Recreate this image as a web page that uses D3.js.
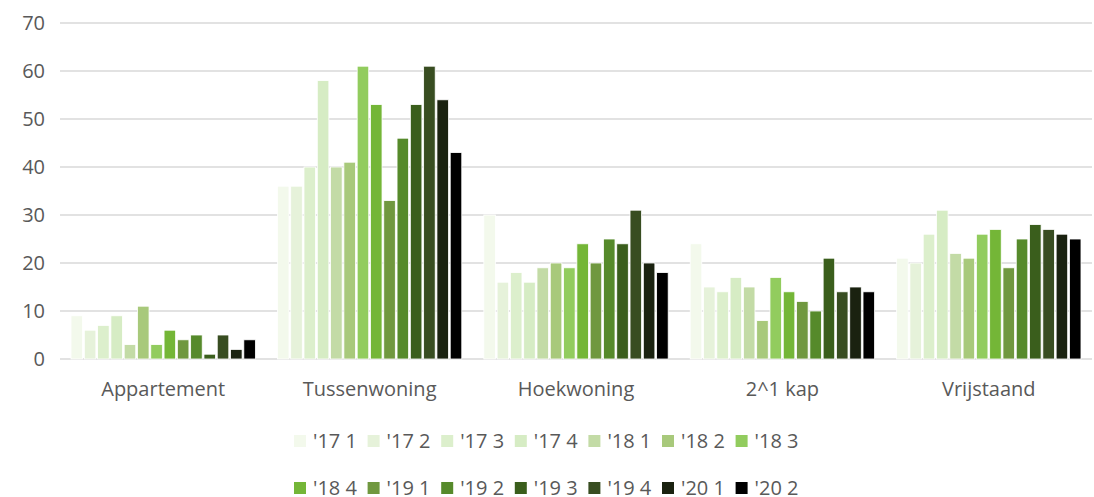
<!DOCTYPE html>
<html>
<head>
<meta charset="utf-8">
<title>Woningtypes per kwartaal</title>
<script src="https://cdn.jsdelivr.net/npm/d3@7"></script>
<style>
  body { margin: 0; background: #fff; }
  text { font-family: "Open Sans", "Noto Sans", sans-serif; fill: #595959; }
</style>
</head>
<body>
<script>
// data
var categories = ["Appartement", "Tussenwoning", "Hoekwoning", "2^1 kap", "Vrijstaand"];
var series = ["'17 1", "'17 2", "'17 3", "'17 4", "'18 1", "'18 2", "'18 3",
              "'18 4", "'19 1", "'19 2", "'19 3", "'19 4", "'20 1", "'20 2"];
var values = [
  [9, 6, 7, 9, 3, 11, 3, 6, 4, 5, 1, 5, 2, 4],
  [36, 36, 40, 58, 40, 41, 61, 53, 33, 46, 53, 61, 54, 43],
  [30, 16, 18, 16, 19, 20, 19, 24, 20, 25, 24, 31, 20, 18],
  [24, 15, 14, 17, 15, 8, 17, 14, 12, 10, 21, 14, 15, 14],
  [21, 20, 26, 31, 22, 21, 26, 27, 19, 25, 28, 27, 26, 25]
];
var yTicks = [0, 10, 20, 30, 40, 50, 60, 70];
var colors = ["#f3f9ec", "#e6f2da", "#dcefcc", "#d6ecc4", "#c3dba6", "#a8c97b", "#92cc5e",
              "#74b637", "#70983f", "#568a2b", "#3a5e1c", "#384d21", "#1a2210", "#000000"];

var W = 1094, H = 497;
var margin = {top: 23, left: 60, right: 2, bottom: 138};

var svg = d3.select("body").append("svg")
  .attr("width", W).attr("height", H);

var x0 = d3.scaleBand().domain(categories)
  .range([margin.left, W - margin.right]).paddingInner(0.09).paddingOuter(0.045);
var x1 = d3.scaleBand().domain(series).range([0, x0.bandwidth()]).padding(0.13);
var y = d3.scaleLinear().domain([0, 70]).range([H - margin.bottom, margin.top]);
var color = d3.scaleOrdinal().domain(series).range(colors);

// gridlines
svg.append("g").selectAll("line").data(yTicks).enter().append("line")
  .attr("x1", margin.left).attr("x2", W - margin.right)
  .attr("y1", function(d) { return y(d); }).attr("y2", function(d) { return y(d); })
  .attr("stroke", "#d9d9d9").attr("stroke-width", 1.3);

// y labels
svg.append("g").selectAll("text").data(yTicks).enter().append("text")
  .attr("x", 45).attr("y", function(d) { return y(d); })
  .attr("dy", "0.35em").attr("text-anchor", "end")
  .style("font-size", "20px").text(function(d) { return d; });

// bars
var groups = svg.append("g").selectAll("g").data(categories).enter().append("g")
  .attr("transform", function(d) { return "translate(" + x0(d) + ",0)"; });

groups.selectAll("rect")
  .data(function(d, i) { return values[i].map(function(v, j) { return {s: series[j], v: v}; }); })
  .enter().append("rect")
  .attr("x", function(d) { return x1(d.s); })
  .attr("width", x1.bandwidth())
  .attr("y", function(d) { return y(d.v); })
  .attr("height", function(d) { return y(0) - y(d.v); })
  .attr("fill", function(d) { return color(d.s); })
  .attr("stroke", "#fff").attr("stroke-width", 0.8);

// category labels
svg.append("g").selectAll("text").data(categories).enter().append("text")
  .attr("x", function(d) { return x0(d) + x0.bandwidth() / 2; })
  .attr("y", 389).attr("dy", "0.35em").attr("text-anchor", "middle")
  .style("font-size", "20px").text(function(d) { return d; });

// legend
var legX = d3.scaleBand().domain(d3.range(7)).range([294, 294 + 7 * 73.6]);
var leg = svg.append("g").selectAll("g").data(series).enter().append("g")
  .attr("transform", function(d, i) {
    return "translate(" + legX(i % 7) + "," + (i < 7 ? 441 : 488) + ")";
  });
leg.append("rect").attr("x", 0).attr("y", -6).attr("width", 12).attr("height", 12)
  .attr("fill", function(d) { return color(d); });
leg.append("text").attr("x", 19).attr("y", 0).attr("dy", "0.35em")
  .style("font-size", "20px").text(function(d) { return d; });
</script>
</body>
</html>
